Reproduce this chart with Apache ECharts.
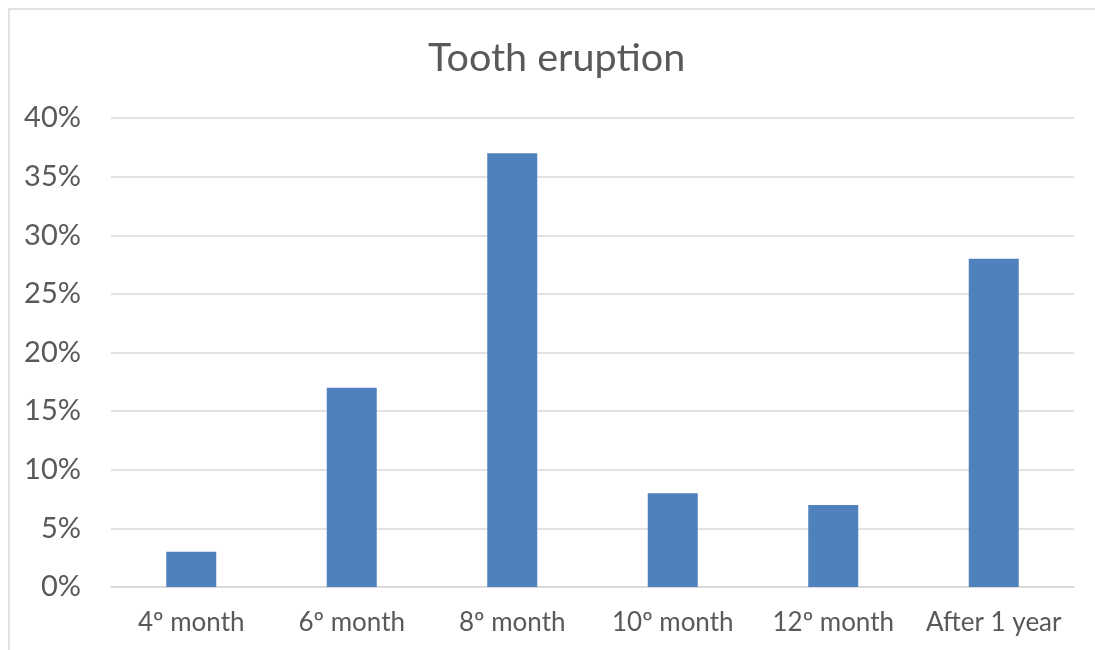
<!DOCTYPE html>
<html>
<head>
<meta charset="utf-8">
<script src="https://cdn.jsdelivr.net/npm/echarts@6/dist/echarts.min.js"></script>
<style>
  html, body { margin: 0; padding: 0; background: #fff; }
  #chart { width: 1095px; height: 650px; }
</style>
</head>
<body>
<div id="chart"></div>
<script>
// Age at first tooth eruption, share of children per group
const categories = ['4º month', '6º month', '8º month', '10º month', '12º month', 'After 1 year'];
const shares = [3, 17, 37, 8, 7, 28];
const yTicks = { min: 0, max: 40, step: 5 };

const textColor = '#595959';
const fontFamily = 'Lato, "Open Sans", sans-serif';

const chart = echarts.init(document.getElementById('chart'));
chart.setOption({
  backgroundColor: '#ffffff',
  animation: false,
  title: {
    text: 'Tooth eruption',
    left: 423,
    top: 33,
    textStyle: { color: textColor, fontFamily, fontSize: 39.5, fontWeight: 'normal' }
  },
  graphic: [{
    type: 'rect',
    shape: { x: 9, y: 9, width: 1200, height: 800 },
    style: { fill: 'none', stroke: '#d9d9d9', lineWidth: 1.5 },
    silent: true
  }],
  grid: { left: 111, right: 21, top: 118, bottom: 63 },
  xAxis: {
    type: 'category',
    data: categories,
    axisLine: { lineStyle: { color: '#d9d9d9', width: 1.5 } },
    axisTick: { show: false },
    axisLabel: { color: textColor, fontFamily, fontSize: 26, margin: 23, interval: 0 }
  },
  yAxis: {
    type: 'value',
    min: yTicks.min,
    max: yTicks.max,
    interval: yTicks.step,
    axisLine: { show: false },
    axisTick: { show: false },
    splitLine: { lineStyle: { color: '#d9d9d9', width: 1.5 } },
    axisLabel: {
      color: textColor, fontFamily, fontSize: 29, margin: 30,
      formatter: v => v + '%'
    }
  },
  series: [{
    type: 'bar',
    data: shares,
    barWidth: 50,
    itemStyle: { color: '#4f81bd' }
  }]
});
</script>
</body>
</html>
